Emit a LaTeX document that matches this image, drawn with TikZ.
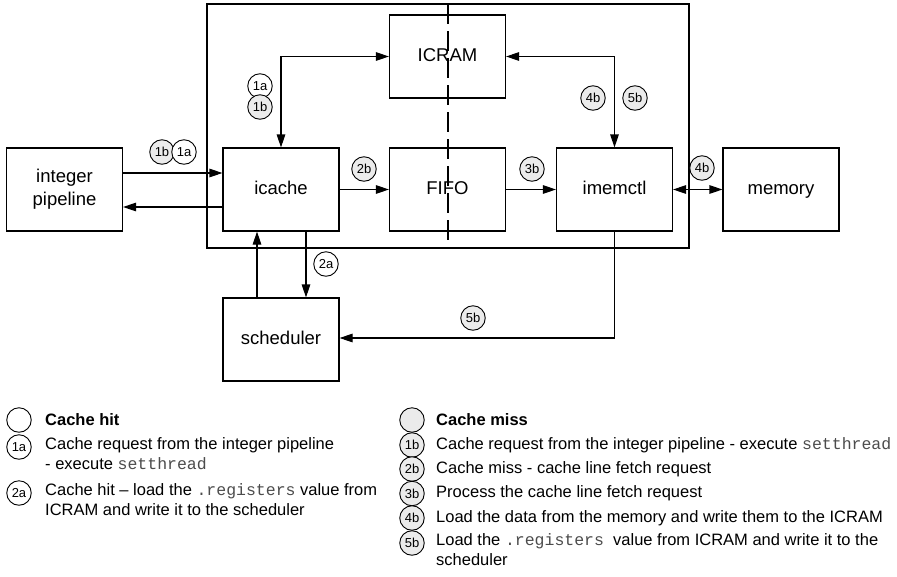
\documentclass[tikz,border=0pt]{standalone}
\usepackage{fontspec}
\setmainfont{Liberation Sans}
\setmonofont{Liberation Mono}
\usetikzlibrary{arrows.meta}
\newcommand{\mycode}[1]{{\ttfamily\color{black!70}#1}}
\begin{document}
\begin{tikzpicture}[x=1pt,y=-1pt,
  blk/.style={draw,line width=1.1pt,fill=white,minimum width=116pt,minimum height=83pt,inner sep=0pt,align=center,font=\fontsize{18.5}{23}\selectfont},
  one/.style={text height=13.5pt,text depth=4pt},
  arr/.style={line width=1.1pt,-{Triangle[length=13pt,width=8.5pt]}},
  darr/.style={line width=1.1pt,{Triangle[length=13pt,width=8.5pt]}-{Triangle[length=13pt,width=8.5pt]}},
  num/.style={circle,draw,line width=0.9pt,minimum size=24.5pt,inner sep=0pt,font=\fontsize{13}{14}\selectfont},
  hit/.style={num,fill=white},
  miss/.style={num,fill=black!8},
  leg/.style={anchor=west,align=left,inner sep=0pt,font=\fontsize{16.5}{20}\selectfont},
  legb/.style={leg,font=\fontsize{16.5}{20}\selectfont\bfseries}]
\useasboundingbox (0,0) rectangle (897,576);
% outer box
\node[draw,line width=2.8pt,minimum width=482pt,minimum height=244pt,inner sep=0pt] (outer) at (448,126) {};
% blocks
\node[blk,one] (icram) at (447.5,56.5) {ICRAM};
\node[blk,one] (icache) at (281,189.5) {icache};
\node[blk,one] (fifo) at (447.5,189.5) {FIFO};
\node[blk,one] (imem) at (614.5,189.5) {imemctl};
\node[blk,one] (memory) at (781,189.5) {memory};
\node[blk] (pipe) at (64.5,189.5) {integer\\pipeline};
\node[blk,one] (sched) at (281,339.5) {scheduler};
% dashed divider
\coordinate (dtop) at (448,4);
\coordinate (dbot) at (448,248);
\draw[line width=1.1pt,dash pattern=on 20pt off 7pt] (dtop) -- (dbot);
% connectors
\draw[arr] ([yshift=16.5pt]pipe.east) -- ([yshift=16.5pt]icache.west);
\draw[arr] ([yshift=-17.5pt]icache.west) -- ([yshift=-17.5pt]pipe.east);
\draw[darr] (icache.north) |- (icram.west);
\draw[darr] (icram.east) -| (imem.north);
\draw[arr] (icache.east) -- (fifo.west);
\draw[arr] (fifo.east) -- (imem.west);
\draw[darr] (imem.east) -- (memory.west);
\draw[arr] ([xshift=25pt]icache.south) -- ([xshift=25pt]sched.north);
\draw[arr] ([xshift=-24pt]sched.north) -- ([xshift=-24pt]icache.south);
\draw[arr] (imem.south) |- ([yshift=1.5pt]sched.east);
% labels on diagram
\node[miss] (l1b) at (162,152) {1b};
\node[hit] (l1a) at (184,152) {1a};
\node[hit] (s1a) at (260,86) {1a};
\node[miss] (s1b) at (260,107) {1b};
\node[miss] (l2b) at (364,169) {2b};
\node[miss] (l3b) at (532,169) {3b};
\node[miss] (l4b) at (593,98) {4b};
\node[miss] (l5b) at (635,98) {5b};
\node[miss] (m4b) at (702,168) {4b};
\node[hit] (l2a) at (326,264) {2a};
\node[miss] (s5b) at (473,318) {5b};
% legend left
\node[hit] (k0) at (19,420) {};
\node[legb] (t0) at (45,420) {Cache hit};
\node[hit] (k1) at (19,447) {1a};
\node[leg,anchor=north west] (t1) at (45,437) {Cache request from the integer pipeline\\- execute \mycode{setthread}};
\node[hit] (k2) at (19,493) {2a};
\node[leg,anchor=north west] (t2) at (45,483) {Cache hit -- load the \mycode{.registers} value from\\ICRAM and write it to the scheduler};
% legend right
\node[miss] (r0) at (412,420) {};
\node[legb] (u0) at (436,420) {Cache miss};
\node[miss] (r1) at (412,445) {1b};
\node[leg] (u1) at (436,445) {Cache request from the integer pipeline - execute \mycode{setthread}};
\node[miss] (r2) at (412,469) {2b};
\node[leg] (u2) at (436,469) {Cache miss - cache line fetch request};
\node[miss] (r3) at (412,493.5) {3b};
\node[leg] (u3) at (436,493.5) {Process the cache line fetch request};
\node[miss] (r4) at (412,518) {4b};
\node[leg] (u4) at (436,518) {Load the data from the memory and write them to the ICRAM};
\node[miss] (r5) at (412,543) {5b};
\node[leg,anchor=north west] (u5) at (436,533) {Load the \mycode{.registers}\ \ value from ICRAM and write it to the\\scheduler};
\end{tikzpicture}
\end{document}
